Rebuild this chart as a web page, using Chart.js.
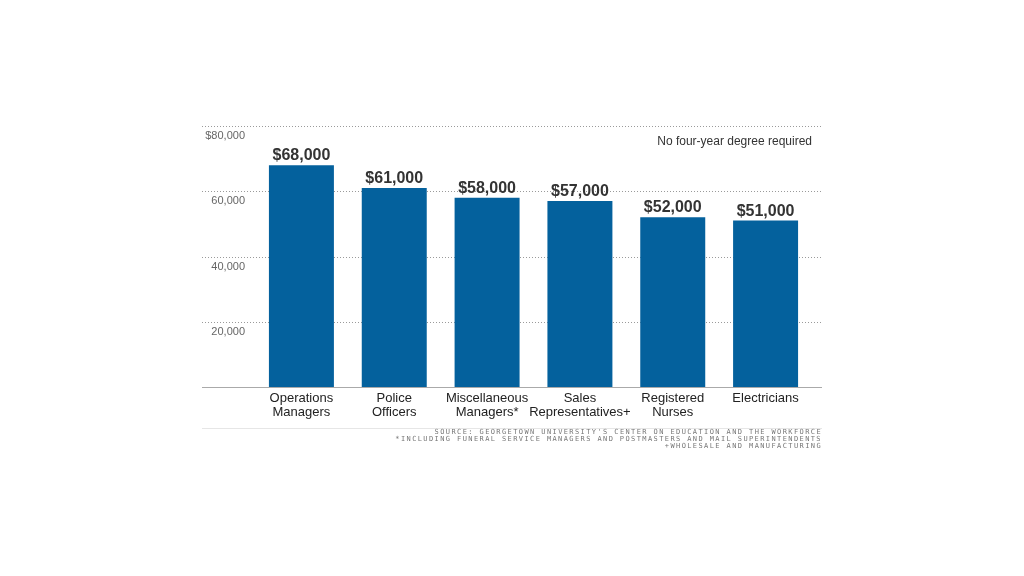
<!DOCTYPE html>
<html>
<head>
<meta charset="utf-8">
<script src="https://cdn.jsdelivr.net/npm/chart.js@4"></script>
<style>
  html, body { margin: 0; padding: 0; background: #fff; }
  #wrap { position: relative; width: 1024px; height: 576px; }
  canvas { position: absolute; left: 0; top: 0; }
  .sub { position: absolute; right: 212px; top: 134px; font: 12px "Liberation Sans", Arial, sans-serif; color: #333; white-space: nowrap; }
  .notes { position: absolute; right: 202px; top: 429px; text-align: right; font: 7px "DejaVu Sans Mono", monospace; line-height: 7px; letter-spacing: 1.4px; color: #777; white-space: nowrap; }
</style>
</head>
<body>
<div id="wrap">
  <canvas id="c" width="1024" height="576"></canvas>
  <div class="sub">No four-year degree required</div>
  <div class="notes">SOURCE: GEORGETOWN UNIVERSITY'S CENTER ON EDUCATION AND THE WORKFORCE<br>*INCLUDING FUNERAL SERVICE MANAGERS AND POSTMASTERS AND MAIL SUPERINTENDENTS<br>+WHOLESALE AND MANUFACTURING</div>
</div>
<script>
const categories = [
  ["Operations", "Managers"],
  ["Police", "Officers"],
  ["Miscellaneous", "Managers*"],
  ["Sales", "Representatives+"],
  ["Registered", "Nurses"],
  ["Electricians"]
];
const earnings = [68000, 61000, 58000, 57000, 52000, 51000];
const yTicks = [0, 20000, 40000, 60000, 80000];
const yTickLabels = ["", "20,000", "40,000", "60,000", "$80,000"];

const LINE_LEFT = 202, LINE_RIGHT = 822;

const decor = {
  id: 'decor',
  beforeDatasetsDraw(chart) {
    const ctx = chart.ctx, y = chart.scales.y;
    ctx.save();
    ctx.strokeStyle = '#9a9a9a';
    ctx.lineWidth = 1;
    ctx.setLineDash([1, 2]);
    yTicks.forEach(v => {
      if (v === 0) return;
      const py = Math.round(y.getPixelForValue(v)) + 0.5;
      ctx.beginPath(); ctx.moveTo(LINE_LEFT, py); ctx.lineTo(LINE_RIGHT, py); ctx.stroke();
    });
    ctx.setLineDash([]);
    ctx.strokeStyle = '#aaaaaa';
    const py0 = Math.round(y.getPixelForValue(0)) + 0.5;
    ctx.beginPath(); ctx.moveTo(LINE_LEFT, py0); ctx.lineTo(LINE_RIGHT, py0); ctx.stroke();
    ctx.strokeStyle = '#e6e6e6';
    ctx.beginPath(); ctx.moveTo(LINE_LEFT, 428.5); ctx.lineTo(LINE_RIGHT, 428.5); ctx.stroke();
    ctx.restore();
  },
  afterDatasetsDraw(chart) {
    const ctx = chart.ctx;
    const meta = chart.getDatasetMeta(0);
    ctx.save();
    ctx.font = 'bold 16px "Liberation Sans", Arial, sans-serif';
    ctx.fillStyle = '#333333';
    ctx.textAlign = 'center';
    ctx.textBaseline = 'alphabetic';
    meta.data.forEach((bar, i) => {
      ctx.fillText('$' + earnings[i].toLocaleString('en-US'), bar.x, bar.y - 5);
    });
    ctx.restore();
  }
};

new Chart(document.getElementById('c'), {
  type: 'bar',
  data: {
    labels: categories,
    datasets: [{
      data: earnings,
      backgroundColor: '#04619d',
      categoryPercentage: 1,
      barPercentage: 0.7
    }]
  },
  options: {
    responsive: false,
    animation: false,
    layout: { padding: { left: 202, right: 212, top: 126, bottom: 148 } },
    plugins: { legend: { display: false }, tooltip: { enabled: false } },
    scales: {
      x: {
        grid: { display: false, drawTicks: false },
        border: { display: false },
        ticks: {
          color: '#222',
          font: { family: '"Liberation Sans", Arial, sans-serif', size: 13, lineHeight: 1.08 },
          padding: 4,
          maxRotation: 0, autoSkip: false
        },
        afterFit(s) { s.height = 41; }
      },
      y: {
        min: 0, max: 80000,
        afterBuildTicks(s) { s.ticks = yTicks.map(v => ({ value: v })); },
        grid: { display: false, drawTicks: false },
        border: { display: false },
        ticks: {
          color: '#666',
          font: { family: '"Liberation Sans", Arial, sans-serif', size: 11 },
          padding: 10,
          labelOffset: 10,
          callback(v) { return yTickLabels[yTicks.indexOf(v)]; }
        },
        afterFit(s) { s.width = 53; }
      }
    }
  },
  plugins: [decor]
});
</script>
</body>
</html>
